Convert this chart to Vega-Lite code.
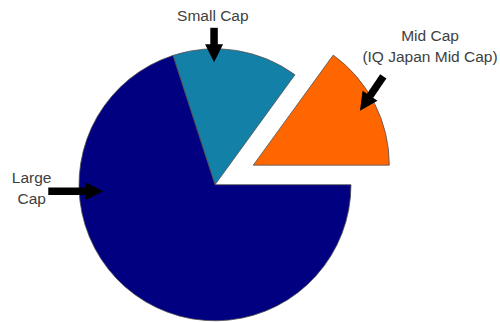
{
  "$schema": "https://vega.github.io/schema/vega-lite/v6.json",
  "width": 500,
  "height": 322,
  "autosize": {"type": "fit", "contains": "padding"},
  "padding": 0,
  "background": "white",
  "view": {"stroke": null},
  "config": {"text": {"font": "Liberation Sans"}},
  "datasets": {
    "slices": [
      {"cap": "Small Cap", "value": 15},
      {"cap": "Mid Cap", "value": 15},
      {"cap": "Large Cap", "value": 70}
    ],
    "notes": [
      {"label": "Small Cap", "tx": -0.016, "ty": 1.217},
      {"label": "Mid Cap\n(IQ Japan Mid Cap)", "tx": 1.581, "ty": 1.065},
      {"label": "Large\nCap", "tx": -1.348, "ty": 0.016}
    ],
    "arrows": [
      {"slice": "Small Cap", "ax": -0.007, "ay": 1.165, "hx": -0.007, "hy": 0.976, "dir": 90},
      {"slice": "Mid Cap", "ax": 1.2375, "ay": 0.805, "hx": 1.103, "hy": 0.605, "dir": 123.9},
      {"slice": "Large Cap", "ax": -1.226, "ay": -0.048, "hx": -0.8875, "hy": -0.048, "dir": 0}
    ]
  },
  "layer": [
    {
      "data": {"name": "slices"},
      "transform": [
        {"stack": "value", "groupby": [], "sort": [{"field": "cap", "order": "descending"}], "as": ["v0", "v1"]},
        {"filter": "datum.cap !== 'Mid Cap'"}
      ],
      "mark": {"type": "arc", "outerRadius": 136, "stroke": "#505050", "strokeWidth": 0.8},
      "encoding": {
        "x": {"datum": 0, "type": "quantitative", "scale": {"domain": [-1.5809, 2.0956], "nice": false, "zero": false}, "axis": null},
        "y": {"datum": 0, "type": "quantitative", "scale": {"domain": [-0.9963, 1.3713], "nice": false, "zero": false}, "axis": null},
        "theta": {"field": "v0", "type": "quantitative", "scale": {"domain": [0, 100], "range": [-0.31416, 5.96903]}},
        "theta2": {"field": "v1"},
        "color": {"field": "cap", "type": "nominal", "scale": {"domain": ["Large Cap", "Small Cap", "Mid Cap"], "range": ["#000080", "#1380A8", "#FF6600"]}, "legend": null}
      }
    },
    {
      "data": {"name": "slices"},
      "transform": [
        {"stack": "value", "groupby": [], "sort": [{"field": "cap", "order": "descending"}], "as": ["v0", "v1"]},
        {"filter": "datum.cap === 'Mid Cap'"}
      ],
      "mark": {"type": "arc", "outerRadius": 136, "stroke": "#505050", "strokeWidth": 0.8},
      "encoding": {
        "x": {"datum": 0.2816, "type": "quantitative", "axis": null},
        "y": {"datum": 0.1456, "type": "quantitative", "axis": null},
        "theta": {"field": "v0", "type": "quantitative"},
        "theta2": {"field": "v1"},
        "color": {"field": "cap", "type": "nominal", "legend": null}
      }
    },
    {
      "data": {"name": "arrows"},
      "mark": {"type": "rule", "color": "black", "strokeWidth": 7.5, "strokeCap": "butt"},
      "encoding": {
        "x": {"field": "ax", "type": "quantitative", "axis": null},
        "y": {"field": "ay", "type": "quantitative", "axis": null},
        "x2": {"field": "hx"},
        "y2": {"field": "hy"}
      }
    },
    {
      "data": {"name": "arrows"},
      "mark": {"type": "point", "shape": "M-1,-1L1,0L-1,1Z", "filled": true, "color": "black", "opacity": 1, "size": 324, "strokeWidth": 0},
      "encoding": {
        "x": {"field": "hx", "type": "quantitative", "axis": null},
        "y": {"field": "hy", "type": "quantitative", "axis": null},
        "angle": {"field": "dir", "type": "quantitative", "scale": null}
      }
    },
    {
      "data": {"name": "notes"},
      "mark": {"type": "text", "fontSize": 15.5, "color": "#404040", "align": "center", "baseline": "alphabetic", "lineBreak": "\n", "lineHeight": 21},
      "encoding": {
        "x": {"field": "tx", "type": "quantitative", "axis": null},
        "y": {"field": "ty", "type": "quantitative", "axis": null},
        "text": {"field": "label"}
      }
    }
  ]
}
